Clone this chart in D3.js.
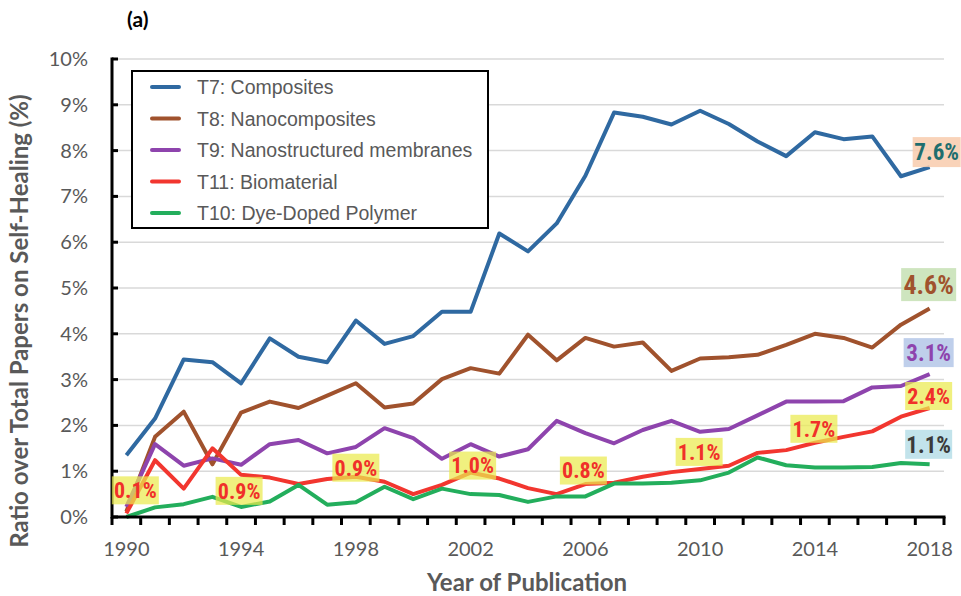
<!DOCTYPE html>
<html lang="en">
<head>
<meta charset="UTF-8">
<title>Self-Healing topics</title>
<script src="https://d3js.org/d3.v7.min.js"></script>
<style>
    body { margin: 0; background: #fff; }
    .line { fill: none; stroke-width: 4px; stroke-linejoin: round; }
    .tick-label { font: 20px Lato, sans-serif; fill: #595959; }
    .axis-title { font: bold 24px Lato, sans-serif; fill: #595959; }
    .legend text { font: 19.5px "Liberation Sans", Arial, sans-serif; fill: #595959; }
    .anno { font-family: "Liberation Sans Narrow", "Arial Narrow", "Roboto Condensed", sans-serif; font-weight: bold; }
</style>
</head>
<body>
<svg width="961" height="596"></svg>
<script>
// Data
const years = [1990, 1991, 1992, 1993, 1994, 1995, 1996, 1997, 1998, 1999,
               2000, 2001, 2002, 2003, 2004, 2005, 2006, 2007, 2008, 2009,
               2010, 2011, 2012, 2013, 2014, 2015, 2016, 2017, 2018];
const yTicks = [0, 1, 2, 3, 4, 5, 6, 7, 8, 9, 10];
const xTickYears = [1990, 1994, 1998, 2002, 2006, 2010, 2014, 2018];

const t7 = [1.35, 2.15, 3.44, 3.38, 2.92, 3.90, 3.50, 3.38, 4.29, 3.78, 3.95, 4.48, 4.48, 6.19, 5.80, 6.41, 7.45, 8.83, 8.74, 8.57, 8.87, 8.58, 8.20, 7.88, 8.40, 8.25, 8.31, 7.44, 7.64];
const t8 = [0.12, 1.75, 2.30, 1.15, 2.28, 2.52, 2.38, 2.65, 2.92, 2.39, 2.48, 3.01, 3.25, 3.13, 3.98, 3.42, 3.91, 3.72, 3.81, 3.19, 3.46, 3.49, 3.54, 3.76, 4.00, 3.91, 3.70, 4.20, 4.55];
const t9 = [0.22, 1.59, 1.12, 1.28, 1.14, 1.59, 1.68, 1.39, 1.53, 1.94, 1.72, 1.27, 1.59, 1.32, 1.48, 2.10, 1.83, 1.61, 1.90, 2.10, 1.86, 1.92, 2.22, 2.52, 2.52, 2.53, 2.83, 2.86, 3.12];
const t11 = [0.08, 1.24, 0.62, 1.50, 0.92, 0.86, 0.72, 0.83, 0.88, 0.77, 0.50, 0.70, 0.97, 0.84, 0.63, 0.50, 0.72, 0.75, 0.88, 0.98, 1.05, 1.12, 1.40, 1.46, 1.62, 1.75, 1.87, 2.19, 2.38];
const t10 = [0.00, 0.21, 0.28, 0.44, 0.22, 0.34, 0.70, 0.27, 0.32, 0.66, 0.39, 0.62, 0.50, 0.48, 0.33, 0.45, 0.45, 0.73, 0.73, 0.75, 0.80, 0.97, 1.30, 1.13, 1.08, 1.08, 1.09, 1.18, 1.15];

const seriesNames = ["T7: Composites", "T8: Nanocomposites", "T9: Nanostructured membranes", "T11: Biomaterial", "T10: Dye-Doped Polymer"];
const seriesValues = [t7, t8, t9, t11, t10];
const seriesColors = ["#2f69a1", "#a0522d", "#8e44ad", "#f2362f", "#23ae5c"];

// labels on the biomaterial line
const redLabelYears = [1990, 1994, 1998, 2002, 2006, 2010, 2014, 2018];
const redLabels = ["0.1%", "0.9%", "0.9%", "1.0%", "0.8%", "1.1%", "1.7%", "2.4%"];
// end-of-line labels (series index -> text)
const endSeries = [0, 1, 2, 4];
const endLabels = ["7.6%", "4.6%", "3.1%", "1.1%"];

// SVG setup
const svg = d3.select("svg");
const plotLeft = 112, plotRight = 944, plotTop = 59, plotBottom = 517;

const x = d3.scaleBand().domain(years).range([plotLeft, plotRight]).padding(0);
const y = d3.scaleLinear().domain([0, 10]).range([plotBottom, plotTop]);
const cx = yr => x(yr) + x.bandwidth() / 2;

// gridlines
svg.append("g").selectAll("line")
    .data(yTicks.filter(d => d > 0))
    .enter().append("line")
    .attr("x1", plotLeft).attr("x2", plotRight)
    .attr("y1", d => y(d)).attr("y2", d => y(d))
    .attr("stroke", "#d9d9d9").attr("stroke-width", 1.5);

// y tick labels + ticks
svg.append("g").selectAll("text")
    .data(yTicks)
    .enter().append("text")
    .attr("class", "tick-label")
    .attr("x", 88)
    .attr("y", d => y(d) + 7)
    .attr("text-anchor", "end")
    .text(d => d + "%");
svg.append("g").selectAll("line")
    .data(yTicks)
    .enter().append("line")
    .attr("x1", plotLeft).attr("x2", plotLeft + 6)
    .attr("y1", d => y(d)).attr("y2", d => y(d))
    .attr("stroke", "#000").attr("stroke-width", 3);

// x ticks at category boundaries
svg.append("g").selectAll("line")
    .data(years.map(d => x(d)).concat([plotRight]))
    .enter().append("line")
    .attr("x1", d => d).attr("x2", d => d)
    .attr("y1", plotBottom).attr("y2", plotBottom + 8)
    .attr("stroke", "#000").attr("stroke-width", 3);
svg.append("g").selectAll("text")
    .data(xTickYears)
    .enter().append("text")
    .attr("class", "tick-label")
    .attr("x", d => cx(d))
    .attr("y", 556)
    .attr("text-anchor", "middle")
    .text(d => d);

// lines
const line = d3.line().x((d, i) => cx(years[i])).y(d => y(d));
seriesValues.forEach((vals, k) => {
    svg.append("path")
        .datum(vals)
        .attr("class", "line")
        .attr("stroke", seriesColors[k])
        .attr("d", line);
});

// axes lines
svg.append("line").attr("x1", plotLeft).attr("x2", plotLeft).attr("y1", plotTop - 1.5).attr("y2", plotBottom + 1.5)
    .attr("stroke", "#000").attr("stroke-width", 3);
svg.append("line").attr("x1", plotLeft).attr("x2", plotRight + 1.5).attr("y1", plotBottom).attr("y2", plotBottom)
    .attr("stroke", "#000").attr("stroke-width", 3);

// annotation boxes
function addLabel(xc, yc, w, h, txt, fill, opacity, color, size) {
    const g = svg.append("g");
    g.append("rect")
        .attr("x", xc - w / 2).attr("y", yc - h / 2)
        .attr("width", w).attr("height", h)
        .attr("fill", fill).attr("fill-opacity", opacity);
    g.append("text")
        .attr("class", "anno")
        .attr("x", xc).attr("y", yc + size * 0.36)
        .attr("text-anchor", "middle")
        .attr("fill", color)
        .style("font-size", size + "px")
        .text(txt);
}

const redOffsets = [[9, -23], [-2, 16], [0, -9], [2, -7], [-2, -13.5], [-1, -17], [-1, -14], [-1, -12]];
redLabelYears.forEach((yr, i) => {
    const v = t11[years.indexOf(yr)];
    addLabel(cx(yr) + redOffsets[i][0], y(v) + redOffsets[i][1], 47, 28,
        redLabels[i], "#eaea4e", 0.72, "#f0302a", 22);
});

const endStyle = [
    { dx: 7, dy: -15, w: 48, h: 30, fill: "#f8cbad", color: "#1f6e6e", size: 23 },
    { dx: -1, dy: -24, w: 55, h: 33, fill: "#c5e0b4", color: "#a0522d", size: 26 },
    { dx: -1, dy: -21.5, w: 50, h: 29, fill: "#b4c7e7", color: "#8e44ad", size: 23 },
    { dx: -1, dy: -20, w: 47, h: 29, fill: "#b7dee8", color: "#3a3a3a", size: 23 }
];
endSeries.forEach((s, i) => {
    const st = endStyle[i];
    const v = seriesValues[s][years.length - 1];
    addLabel(cx(2018) + st.dx, y(v) + st.dy, st.w, st.h, endLabels[i], st.fill, 0.85, st.color, st.size);
});

// legend
const legend = svg.append("g").attr("class", "legend");
legend.append("rect")
    .attr("x", 132).attr("y", 71).attr("width", 356).attr("height", 157)
    .attr("fill", "#fff").attr("stroke", "#000").attr("stroke-width", 2);
seriesNames.forEach((name, k) => {
    const ly = 87 + k * 31.5;
    legend.append("line")
        .attr("x1", 152).attr("x2", 179).attr("y1", ly).attr("y2", ly)
        .attr("stroke", seriesColors[k]).attr("stroke-width", 4).attr("stroke-linecap", "round");
    legend.append("text").attr("x", 197).attr("y", ly + 7).text(name);
});

// titles
svg.append("text")
    .attr("x", 127).attr("y", 27)
    .attr("font-family", "Lato, sans-serif")
    .attr("font-weight", "bold")
    .attr("font-size", 21)
    .attr("fill", "#000")
    .text("(a)");
svg.append("text")
    .attr("class", "axis-title")
    .attr("x", 527).attr("y", 591)
    .attr("text-anchor", "middle")
    .text("Year of Publication");
svg.append("text")
    .attr("class", "axis-title")
    .attr("transform", "translate(28,321) rotate(-90)")
    .attr("text-anchor", "middle")
    .text("Ratio over Total Papers on Self-Healing (%)");
</script>
</body>
</html>
